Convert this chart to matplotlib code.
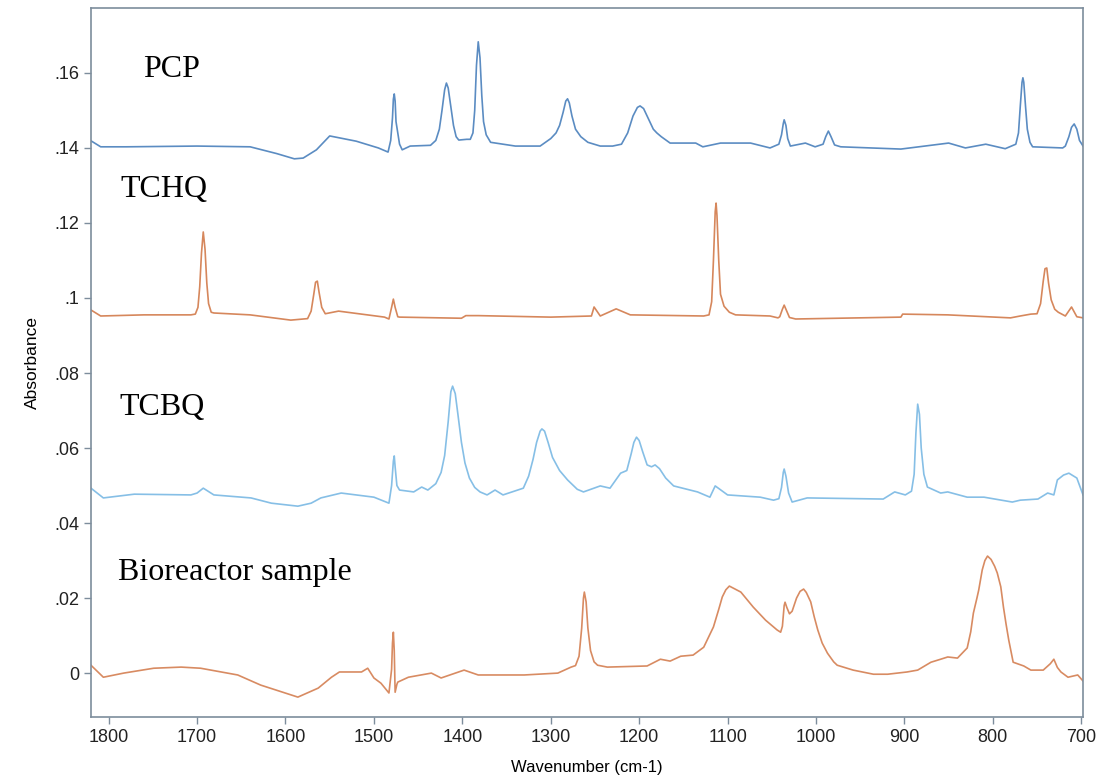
import matplotlib
matplotlib.use('Agg')
from matplotlib import pyplot as plt
from matplotlib.ticker import FuncFormatter

# PCP spectrum (wavenumber cm-1, absorbance)
pcp_wn = [1820, 1809, 1780, 1700, 1640, 1610, 1590, 1580, 1565, 1550, 1520, 1495,
          1484, 1481, 1479, 1478, 1477, 1476, 1475, 1473, 1471, 1468,
          1459, 1436, 1430, 1426, 1423, 1420, 1418, 1416, 1413, 1410, 1407, 1404, 1395,
          1391, 1388, 1386, 1384, 1382, 1380, 1378, 1376, 1373, 1368,
          1340, 1312, 1300, 1294, 1290, 1286, 1283, 1281, 1279, 1276, 1272, 1266, 1258,
          1244, 1230, 1220, 1213, 1207, 1202, 1199, 1195, 1190, 1184, 1180, 1175, 1165,
          1136, 1128, 1108, 1074, 1052, 1042, 1039, 1037, 1036, 1034, 1032, 1029,
          1012, 1001, 992, 989, 986, 983, 979, 972, 904, 850, 831, 808, 786,
          774, 771, 769, 767, 766, 765, 763, 761, 758, 755,
          721, 718, 714, 711, 708, 705, 702, 698]
pcp_abs = [.1419, .1403, .1403, .1405, .1403, .1385, .1371, .1373, .1395, .1432, .1418, .1400,
           .1389, .1420, .1480, .1530, .1544, .1525, .1470, .1440, .1410, .1395,
           .1405, .1407, .1420, .1450, .1500, .1555, .1573, .1560, .1510, .1460, .1430, .1421, .1423,
           .1423, .1440, .1500, .1620, .1683, .1640, .1540, .1470, .1435, .1415,
           .1405, .1405, .1425, .1440, .1460, .1495, .1525, .1531, .1520, .1485, .1450, .1430, .1415,
           .1405, .1405, .1410, .1440, .1485, .1508, .1512, .1505, .1480, .1450, .1440, .1430, .1413,
           .1413, .1403, .1413, .1413, .1400, .1410, .1435, .1465, .1475, .1460, .1425, .1405,
           .1413, .1403, .1410, .1430, .1445, .1430, .1408, .1403, .1397, .1413, .1400, .1410, .1398,
           .1410, .1440, .1510, .1575, .1587, .1575, .1510, .1450, .1415, .1403,
           .1400, .1405, .1430, .1455, .1464, .1450, .1420, .1405]

# TCHQ spectrum
tchq_wn = [1820, 1809, 1760, 1707, 1702, 1699, 1697, 1695, 1693, 1691, 1689, 1687, 1684,
           1681, 1640, 1594, 1575, 1571, 1568, 1566, 1564, 1562, 1559, 1555, 1540,
           1488, 1483, 1480, 1478, 1476, 1473, 1471, 1401, 1396, 1382, 1300, 1254, 1251,
           1244, 1226, 1210, 1127, 1121, 1118, 1116, 1114, 1113, 1112, 1110, 1108, 1104,
           1098, 1091, 1052, 1043, 1041, 1038, 1036, 1034, 1030, 1023, 904, 902, 851, 780,
           769, 757, 750, 746, 743, 741, 739, 737, 734, 730, 726, 718, 711, 705, 698]
tchq_abs = [.0968, .0952, .0955, .0955, .0957, .0975, .1030, .1120, .1176, .1130, .1040, .0985, .0962,
            .0960, .0955, .0941, .0945, .0965, .1010, .1042, .1045, .1015, .0975, .0958, .0965,
            .0949, .0944, .0975, .0997, .0975, .0950, .0949, .0946, .0953, .0953, .0949, .0952, .0976,
            .0952, .0971, .0955, .0952, .0955, .0990, .1100, .1230, .1253, .1220, .1100, .1010, .0978,
            .0962, .0955, .0952, .0947, .0950, .0970, .0981, .0970, .0948, .0944, .0949, .0957, .0955, .0947,
            .0952, .0957, .0958, .0985, .1045, .1078, .1080, .1040, .0995, .0970, .0962, .0952, .0976, .0950, .0947]

# TCBQ spectrum
tcbq_wn = [1820, 1806, 1771, 1707, 1700, 1693, 1681, 1639, 1616, 1586, 1571, 1560, 1537,
           1500, 1483, 1480, 1478, 1477, 1476, 1474, 1471, 1455, 1446, 1439, 1430, 1424,
           1420, 1416, 1413, 1411, 1408, 1405, 1401, 1397, 1392, 1386, 1380, 1372, 1363,
           1354, 1331, 1325, 1320, 1316, 1312, 1310, 1307, 1303, 1298, 1290, 1281, 1270,
           1263, 1244, 1233, 1221, 1214, 1209, 1206, 1203, 1200, 1196, 1191, 1186, 1182,
           1177, 1170, 1161, 1134, 1120, 1114, 1100, 1063, 1048, 1042, 1039, 1037, 1036,
           1034, 1031, 1027, 1010, 924, 911, 899, 892, 889, 887, 885, 883, 881, 878, 874,
           859, 851, 829, 810, 778, 769, 749, 738, 731, 727, 720, 714, 705, 698]
tcbq_abs = [.0493, .0467, .0477, .0475, .0480, .0493, .0475, .0467, .0453, .0445, .0453, .0467, .0480,
            .0469, .0453, .0500, .0565, .0579, .0550, .0500, .0488, .0483, .0496, .0488, .0505, .0535,
            .0580, .0670, .0750, .0765, .0745, .0690, .0615, .0560, .0520, .0495, .0483, .0475, .0488,
            .0475, .0493, .0525, .0570, .0615, .0645, .0651, .0645, .0615, .0575, .0540, .0515, .0490,
            .0483, .0499, .0493, .0533, .0540, .0585, .0615, .0629, .0620, .0590, .0555, .0550, .0555,
            .0545, .0520, .0499, .0483, .0469, .0499, .0475, .0469, .0461, .0465, .0495, .0535, .0544,
            .0525, .0480, .0456, .0467, .0464, .0483, .0475, .0485, .0530, .0640, .0717, .0690, .0600, .0530, .0496,
            .0480, .0483, .0469, .0469, .0456, .0461, .0464, .0480, .0475, .0515, .0528, .0533, .0520, .0475]

# Bioreactor sample spectrum
bio_wn = [1820, 1806, 1783, 1749, 1718, 1696, 1654, 1628, 1586, 1563, 1548, 1539, 1514,
          1507, 1500, 1492, 1483, 1480, 1479, 1478, 1477, 1476, 1474, 1473, 1461, 1435,
          1424, 1398, 1382, 1330, 1292, 1277, 1272, 1268, 1265, 1263, 1262, 1260, 1258,
          1255, 1251, 1247, 1236, 1191, 1176, 1165, 1153, 1139, 1127, 1116, 1110, 1106,
          1102, 1098, 1085, 1071, 1057, 1044, 1040, 1038, 1036, 1035, 1033, 1030, 1027,
          1022, 1018, 1014, 1011, 1006, 1002, 998, 993, 987, 980, 976, 958, 935, 919, 897,
          885, 870, 859, 851, 840, 829, 825, 822, 818, 816, 812, 809, 806, 802, 798, 795,
          791, 788, 785, 782, 777, 765, 757, 743, 735, 731, 727, 723, 715, 704, 698]
bio_abs = [.0021, -.0011, .0000, .0013, .0016, .0013, -.0005, -.0032, -.0064, -.0040, -.0011, .0003, .0003,
           .0013, -.0013, -.0027, -.0053, .0010, .0080, .0109, .0060, -.0051, -.0030, -.0024, -.0011, .0000,
           -.0013, .0008, -.0005, -.0005, .0000, .0016, .0020, .0045, .0120, .0200, .0216, .0190, .0120,
           .0060, .0030, .0021, .0016, .0019, .0037, .0032, .0045, .0048, .0069, .0123, .0170, .0203,
           .0222, .0232, .0216, .0176, .0141, .0115, .0109, .0125, .0180, .0189, .0175, .0158, .0165,
           .0200, .0218, .0224, .0215, .0190, .0150, .0115, .0080, .0053, .0030, .0021, .0008, -.0003, -.0003, .0003,
           .0008, .0029, .0037, .0043, .0040, .0067, .0110, .0160, .0200, .0221, .0275, .0300, .0312, .0303, .0285, .0267,
           .0230, .0176, .0130, .0088, .0029, .0019, .0008, .0008, .0025, .0037, .0015, .0003, -.0011, -.0005, -.0021]

traces = [
    (pcp_wn, pcp_abs, '#5b8cc2', 'PCP', 1761, 0.1608),
    (tchq_wn, tchq_abs, '#d6875c', 'TCHQ', 1787, 0.1288),
    (tcbq_wn, tcbq_abs, '#86bfe6', 'TCBQ', 1788, 0.0707),
    (bio_wn, bio_abs, '#d88b62', 'Bioreactor sample', 1789, 0.0267),
]

fig = plt.figure(figsize=(11.04, 7.79), dpi=100)
ax = fig.add_axes([0.0824, 0.0796, 0.8986, 0.9101])

for wn, ab, col, name, tx, ty in traces:
    ax.plot(wn, ab, color=col, lw=1.2)
    ax.text(tx, ty, name, fontsize=23, family='Liberation Serif',
            va='center', ha='left', color='black')

ax.set_xlim(1820, 698)
ax.set_ylim(-0.0117, 0.1773)
ax.set_xticks([1800, 1700, 1600, 1500, 1400, 1300, 1200, 1100, 1000, 900, 800, 700])
ax.set_yticks([0, .02, .04, .06, .08, .1, .12, .14, .16])


def fmt_y(v, pos):
    if abs(v) < 1e-9:
        return '0'
    return ('%g' % round(v, 2)).lstrip('0')


ax.yaxis.set_major_formatter(FuncFormatter(fmt_y))

spine_col = '#7d8d9c'
for s in ax.spines.values():
    s.set_color(spine_col)
    s.set_linewidth(1.2)
ax.tick_params(axis='both', direction='out', length=5, width=1, color=spine_col,
               labelsize=13, labelcolor='#222222')
for lab in ax.get_xticklabels() + ax.get_yticklabels():
    lab.set_family('Liberation Sans')

ax.set_xlabel('Wavenumber (cm-1)', fontsize=12, family='Liberation Sans', labelpad=10)
ax.set_ylabel('Absorbance', fontsize=12.5, family='Liberation Sans', labelpad=10)

plt.savefig('out.png', dpi=100)
